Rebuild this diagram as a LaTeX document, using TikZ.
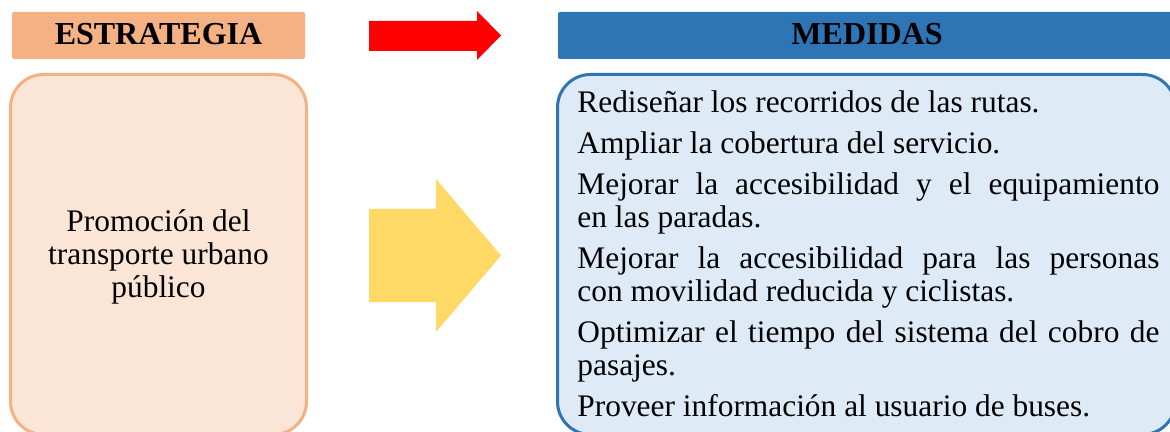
\documentclass[tikz,border=0pt]{standalone}
\usepackage{fontspec}
\setmainfont{Liberation Serif}
\definecolor{estrfill}{HTML}{F4B183}
\definecolor{estrback}{HTML}{FBE5D6}
\definecolor{medfill}{HTML}{2E75B6}
\definecolor{medback}{HTML}{DEEBF7}
\definecolor{flechaamarilla}{HTML}{FFD966}
\tikzset{
  cabecera/.style={font=\fontsize{16}{19}\selectfont\bfseries, inner sep=0pt},
  cuerpo/.style={font=\fontsize{15.7}{16.5}\selectfont, inner sep=0pt},
}

\begin{document}
\begin{tikzpicture}[x=0.5pt, y=-0.5pt]
  \useasboundingbox (0,0) rectangle (1170,432);

  % Estrategia
  \fill[estrfill, rounded corners=1pt] (12,12) rectangle (305,59);
  \node[cabecera] (estrategia) at (158.5,34) {ESTRATEGIA};
  \draw[estrfill, fill=estrback, line width=1.5pt, rounded corners=16.5pt]
    (10.5,74.5) rectangle (306.5,434.5);
  \node[cuerpo, align=center] (promocion) at (158.5,257)
    {Promoción del\\transporte urbano\\público};

  % Flechas
  \fill[red] (369,21) -- (477,21) -- (477,11) -- (501,35.5) -- (477,60)
    -- (477,51) -- (369,51) -- cycle;
  \fill[flechaamarilla] (369,209) -- (436,209) -- (436,179) -- (501,255.5)
    -- (436,332) -- (436,302) -- (369,302) -- cycle;

  % Medidas
  \fill[medfill, rounded corners=1pt] (558,12) rectangle (1176,59);
  \node[cabecera] (medidas) at (867,34) {MEDIDAS};
  \draw[medfill, fill=medback, line width=1.5pt, rounded corners=16.5pt]
    (557.5,74.5) rectangle (1175.5,434.5);
  \node[cuerpo, anchor=north west, text width=291pt, align=justify]
    (listamedidas) at (577,89) {\parindent=0pt\parskip=4pt
    \strut Rediseñar los recorridos de las rutas.\par
    Ampliar la cobertura del servicio.\par
    Mejorar la accesibilidad y el equipamiento\linebreak en las paradas.\par
    Mejorar la accesibilidad para las personas\linebreak con movilidad reducida y ciclistas.\par
    Optimizar el tiempo del sistema del cobro de\linebreak pasajes.\par
    Proveer información al usuario de buses.};
\end{tikzpicture}
\end{document}
